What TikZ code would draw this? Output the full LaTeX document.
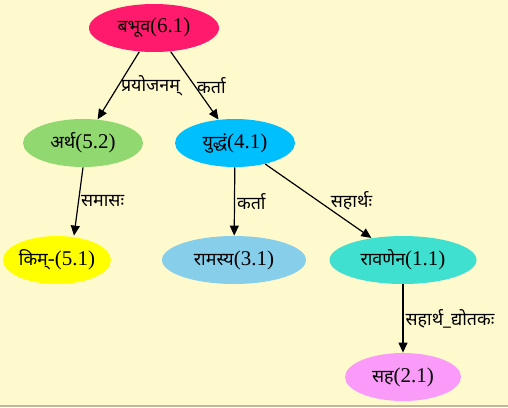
\documentclass[tikz,border=0pt]{standalone}
\usepackage{fontspec}
\setmainfont{Liberation Serif}
\newfontfamily\deva[Script=Devanagari, Scale=0.85]{Noto Sans}
\usetikzlibrary{shapes.geometric, arrows.meta}
\definecolor{bgcol}{RGB}{255,250,205}
\definecolor{pinkA}{RGB}{255,26,110}
\definecolor{greenA}{RGB}{146,216,112}
\definecolor{blueA}{RGB}{0,191,255}
\definecolor{yellowA}{RGB}{255,255,0}
\definecolor{skyA}{RGB}{135,206,235}
\definecolor{turqA}{RGB}{64,224,208}
\definecolor{violetA}{RGB}{250,155,250}
\begin{document}
\begin{tikzpicture}[x=.5pt, y=-.5pt, font=\fontsize{10.5}{13}\selectfont, line join=round, >={Triangle[length=5pt, width=4.5pt]}]
	\tikzset{nd/.style={ellipse, minimum height=24pt, inner sep=0pt},
		lbl/.style={right, inner sep=1pt, font=\fontsize{10.5}{13}\selectfont\deva},
		edge/.style={->, line width=.6pt}}
	\fill[bgcol] (0,0) rectangle (508,407);
	\useasboundingbox (0,0) rectangle (508,407);
	\fill[gray!70!olive!60] (0,405) rectangle (508,407);
	\node[nd, fill=pinkA, minimum width=65pt] (b61) at (154,28) {{\deva बभूव}(6.1)};
	\node[nd, fill=greenA, minimum width=60pt] (a52) at (83,143) {{\deva अर्थ}(5.2)};
	\node[nd, fill=blueA, minimum width=60pt] (y41) at (235,143) {{\deva युद्धं}(4.1)};
	\node[nd, fill=yellowA, minimum width=53pt] (k51) at (57,260) {{\deva किम्}-(5.1)};
	\node[nd, fill=skyA, minimum width=72pt] (r31) at (234,260) {{\deva रामस्य}(3.1)};
	\node[nd, fill=turqA, minimum width=73.5pt] (r11) at (403,260) {{\deva रावणेन}(1.1)};
	\node[nd, fill=violetA, minimum width=58pt] (s21) at (403,377) {{\deva सह}(2.1)};
	\draw[edge] (b61) -- node[lbl]{प्रयोजनम्} (a52);
	\draw[edge] (b61) -- node[lbl]{कर्ता} (y41);
	\draw[edge] (a52.south) -- node[lbl]{समासः} ([xshift=8.5pt]k51.north);
	\draw[edge] (y41) -- node[lbl]{कर्ता} (r31);
	\draw[edge] (y41) -- node[lbl, xshift=5pt]{सहार्थः} (r11);
	\draw[edge] (r11) -- node[lbl]{सहार्थ\_द्योतकः} (s21);
\end{tikzpicture}
\end{document}
